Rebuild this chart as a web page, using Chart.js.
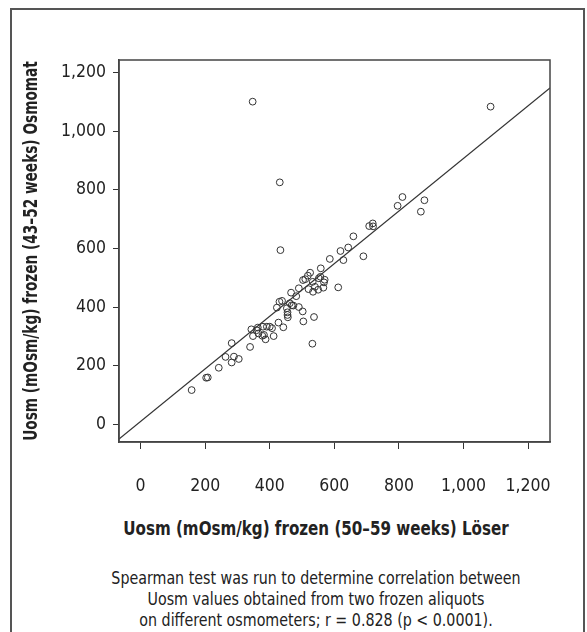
<!DOCTYPE html>
<html>
<head>
<meta charset="utf-8">
<script src="https://cdn.jsdelivr.net/npm/chart.js@4.4.1/dist/chart.umd.min.js"></script>
<style>
  html, body { margin: 0; padding: 0; background: #fff; }
  body { width: 587px; height: 632px; position: relative; overflow: hidden;
         font-family: 'Liberation Sans Narrow', 'DejaVu Sans Condensed', sans-serif; color: #222; }
  #frame { position: absolute; left: 10px; top: 8px; width: 575px; height: 640px;
           border: 2px solid #555; border-bottom: none; box-sizing: border-box; }
  #chartBox { position: absolute; left: 0; top: 0; width: 587px; height: 500px; }
  .txt { position: absolute; text-align: center; white-space: nowrap; }
  #yTitle { left: -270px; top: 239px; width: 600px; height: 24px; line-height: 24px;
            font-size: 19px; font-weight: bold; transform: rotate(-90deg) scaleX(0.8); }
  #xTitle { left: 16px; width: 600px; top: 516px; line-height: 24px;
            font-size: 19px; font-weight: bold; transform: scaleX(0.885); }
  #caption { left: 16px; width: 600px; top: 567px; font-size: 18px; line-height: 21px;
             transform: scaleX(0.88); }
</style>
</head>
<body>
<div id="frame"></div>
<div id="chartBox"><canvas id="chart" width="587" height="500"></canvas></div>
<div id="yTitle" class="txt">Uosm (mOsm/kg) frozen (43–52 weeks) Osmomat</div>
<div id="xTitle" class="txt">Uosm (mOsm/kg) frozen (50–59 weeks) Löser</div>
<div id="caption" class="txt">Spearman test was run to determine correlation between<br>Uosm values obtained from two frozen aliquots<br>on different osmometers; r = 0.828 (p &lt; 0.0001).</div>
<script>
// ===== Data =====
const loserValues = [
  158, 203, 208, 242, 263, 282, 289, 304, 282, 339,
  343, 348, 359, 363, 365, 377, 382, 387, 379, 391,
  400, 407, 412, 427, 442, 422, 430, 438, 453, 455,
  455, 456, 466, 462, 468, 473, 482, 490, 490, 502,
  504, 537, 532, 433, 431, 347, 503, 510, 518, 525,
  520, 534, 540, 533, 550, 566, 552, 557, 558, 570,
  568, 612, 586, 628, 619, 643, 690, 659, 708, 719,
  720, 796, 811, 868, 879, 1084
];
const osmomatValues = [
  117, 159, 160, 193, 230, 211, 231, 223, 277, 264,
  324, 301, 321, 330, 310, 302, 305, 290, 333, 333,
  333, 328, 301, 347, 331, 398, 418, 421, 396, 382,
  373, 365, 449, 413, 406, 405, 437, 464, 400, 385,
  351, 366, 275, 594, 825, 1100, 492, 495, 507, 517,
  461, 452, 469, 486, 459, 466, 498, 503, 532, 493,
  484, 467, 564, 560, 591, 603, 573, 641, 676, 685,
  675, 745, 775, 725, 764, 1083
];
// fit line end points
const fitX = [-67, 1268];
const fitY = [-50, 1147];
const xTicks = [0, 200, 400, 600, 800, 1000, 1200];
const yTicks = [0, 200, 400, 600, 800, 1000, 1200];

const FONT = "'Liberation Sans Narrow', 'DejaVu Sans Condensed', sans-serif";
Chart.defaults.font.family = FONT;
Chart.defaults.color = '#222';

const points = loserValues.map((x, i) => ({ x, y: osmomatValues[i] }));
const fitLine = fitX.map((x, i) => ({ x, y: fitY[i] }));

// box around the plot area
const boxPlugin = {
  id: 'box',
  afterDraw(chart) {
    const { ctx, chartArea: a } = chart;
    ctx.save();
    ctx.strokeStyle = '#444';
    ctx.lineWidth = 1.5;
    ctx.strokeRect(a.left, a.top, a.right - a.left, a.bottom - a.top);
    ctx.restore();
  }
};

const fmt = (v) => v.toLocaleString('en-US');

new Chart(document.getElementById('chart'), {
  type: 'scatter',
  data: {
    datasets: [
      {
        type: 'line',
        data: fitLine,
        borderColor: '#333',
        borderWidth: 1.2,
        pointRadius: 0,
        fill: false,
        tension: 0,
      },
      {
        data: points,
        pointRadius: 3.4,
        pointBorderWidth: 1,
        borderColor: '#333',
        backgroundColor: 'rgba(255,255,255,0)',
      },
    ],
  },
  plugins: [boxPlugin],
  options: {
    responsive: false,
    animation: false,
    events: [],
    layout: { padding: { left: 15, top: 60, right: 37, bottom: 0 } },
    plugins: { legend: { display: false }, tooltip: { enabled: false } },
    scales: {
      x: {
        type: 'linear',
        min: -67,
        max: 1268,
        afterFit: (s) => { s.height = 58; },
        afterBuildTicks: (s) => { s.ticks = xTicks.map(v => ({ value: v })); },
        grid: { drawOnChartArea: false, drawTicks: true, tickLength: 7, color: '#333' },
        border: { display: true, color: '#444', width: 1.5 },
        ticks: { font: { size: 17.5 }, color: '#222', padding: 27, maxRotation: 0, callback: fmt },
      },
      y: {
        type: 'linear',
        min: -60,
        max: 1242,
        afterFit: (s) => { s.width = 104; },
        afterBuildTicks: (s) => { s.ticks = yTicks.map(v => ({ value: v })); },
        grid: { drawOnChartArea: false, drawTicks: true, tickLength: 6, color: '#333' },
        border: { display: true, color: '#444', width: 1.5 },
        ticks: { font: { size: 17.5 }, color: '#222', padding: 7, callback: fmt },
      },
    },
  },
});
</script>
</body>
</html>
